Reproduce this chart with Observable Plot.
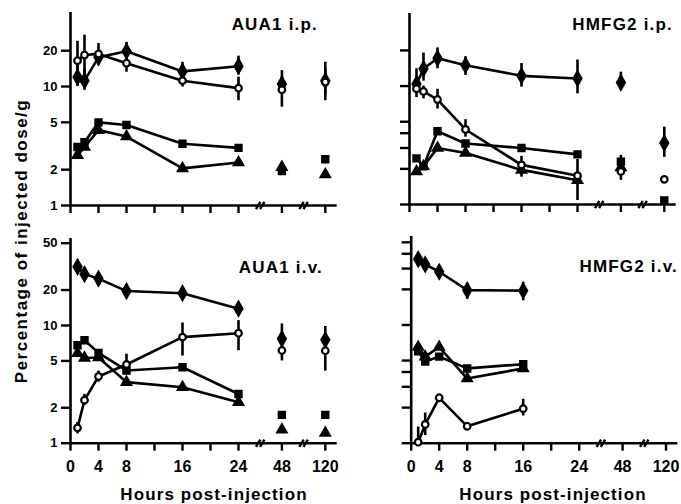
<!DOCTYPE html>
<html><head><meta charset="utf-8">
<script src="https://cdn.jsdelivr.net/npm/d3@7"></script>
<script src="https://cdn.jsdelivr.net/npm/@observablehq/plot@0.6"></script>
<style>
body{margin:0;background:#fff;}
#chart{position:relative;width:681px;height:504px;overflow:hidden;font-family:"Liberation Sans",Arial,sans-serif;font-weight:bold;color:#000;}
.panel{position:absolute;}
.lbl{position:absolute;white-space:nowrap;font-weight:bold;line-height:1;}
#chart g[aria-label$="axis tick"] path{stroke-width:2.4px;}
</style></head><body><div id="chart"></div>
<script>
// ---- data (percentage of injected dose / g) ----
const hoursAll = [1, 2, 4, 8, 16, 24, 48, 120];
const hoursShort = [1, 2, 4, 8, 16];

// AUA1 i.p.
const auaIpDiamond  = [12.0, 11.2, 17.6, 19.8, 13.4, 14.8, 10.5, 11.2];
const auaIpCircle   = [16.5, 18.4, 18.8, 15.7, 11.2, 9.7, 9.4, 10.9];
const auaIpSquare   = [3.1, 3.4, 5.0, 4.75, 3.3, 3.05, 1.95, 2.45];
const auaIpTriangle = [2.65, 3.1, 4.3, 3.8, 2.05, 2.3, 2.1, 1.82];
const auaIpDiamondLo = [10, 9.3, 15, 17, 11.5, 12.5, 9, 8.5];
const auaIpDiamondHi = [15, 14, 23, 23.5, 16, 18, 13.6, 16];
const auaIpCircleLo  = [10.5, 12, null, 13.2, 9.9, 7.6, 6.7, 7.6];
const auaIpCircleHi  = [24, 27, null, 18, 13, 12, 12, 14];

// HMFG2 i.p.
const hmfIpDiamond  = [10.4, 14.0, 17.2, 15.0, 12.2, 11.6, 10.7, 3.3];
const hmfIpCircle   = [9.5, 9.0, 7.7, 4.3, 2.16, 1.75, 1.9, 1.63];
const hmfIpSquare   = [2.45, 2.1, 4.15, 3.27, 3.0, 2.65, 2.3, 1.08];
const hmfIpTriangle = [1.9, 2.1, 3.0, 2.72, 1.96, 1.6, 2.05, null];
const hmfIpDiamondLo = [8, 11, 14, 12.3, 9.8, 8.6, 9.2, 2.5];
const hmfIpDiamondHi = [14, 19, 21, 17.7, 15.5, 16.6, 13.1, 4.5];
const hmfIpCircleLo  = [null, 7.8, 6.4, 3.7, 1.7, 1.08, 1.6, null];
const hmfIpCircleHi  = [null, 10, 9.4, 5.2, 2.55, 2.4, 2.6, null];

// AUA1 i.v.
const auaIvDiamond  = [31.5, 27.3, 25.0, 19.6, 18.8, 13.9, 7.7, 7.55];
const auaIvCircle   = [1.35, 2.32, 3.69, 4.66, 7.96, 8.6, 6.13, 6.1];
const auaIvSquare   = [6.8, 7.5, 5.85, 4.15, 4.42, 2.62, 1.74, 1.74];
const auaIvTriangle = [5.8, 5.3, 5.35, 3.3, 2.99, 2.23, 1.3, 1.22];
const auaIvDiamondLo = [28, 24.5, 23, 17, 16.5, 12.8, 7, 7];
const auaIvDiamondHi = [36, 30, 28, 22, 21, 15.5, 10.3, 9.8];
const auaIvCircleLo  = [1.2, 2.1, 3.3, 3.9, 5.5, 6.1, 5.0, 4.1];
const auaIvCircleHi  = [1.5, 2.6, 4.1, 5.7, 10.5, 11, 7, 7];

// HMFG2 i.v.
const hmfIvDiamond  = [36.0, 32.5, 28.2, 19.7, 19.5];
const hmfIvCircle   = [1.02, 1.44, 2.42, 1.39, 1.96];
const hmfIvSquare   = [6.0, 4.9, 5.4, 4.29, 4.66];
const hmfIvTriangle = [6.5, 5.4, 6.5, 3.52, 4.29];
const hmfIvDiamondLo = [31, 29, 25, 16.5, 16];
const hmfIvDiamondHi = [40, 35, 31, 22.5, 23];
const hmfIvCircleLo  = [1.0, 1.16, 2.3, 1.3, 1.7];
const hmfIvCircleHi  = [1.37, 1.8, 2.6, 1.5, 2.35];

// axis ticks
const xTickHours  = [0, 4, 8, 12, 16, 20, 24, 48, 120];
const xTickLabels = ["0", "4", "8", "", "16", "", "24", "48", "120"];
const yTicksA = [1, 2, 5, 10, 20];
const yTicksB = [1, 2, 3, 4, 5, 10, 20];
const yTicksC = [1, 2, 5, 10, 20, 50];
const yTicksD = [1, 2, 3, 4, 5, 10, 20, 30, 40, 50];
const titles = ["AUA1 i.p.", "HMFG2 i.p.", "AUA1 i.v.", "HMFG2 i.v."];
const yTitle = "Percentage of injected dose/g";
const xTitle = "Hours post-injection";

// ---- broken time axis: 0-24 h linear, then 48 and 120 h ----
const gapUnits = 6.2;
const pos = h => h <= 24 ? h : h <= 48 ? 24 + (h - 24) * gapUnits / 24 : 24 + gapUnits + (h - 48) * gapUnits / 72;
const breakHours = [36, 84];
const xTickPos = xTickHours.map(pos);

// "//" axis-break glyph as a custom symbol
const breakSymbol = {
  draw(ctx, size) {
    const s = Math.sqrt(size) / 2;
    for (const dx of [-s * 0.42, s * 0.42]) {
      ctx.moveTo(dx - s * 0.45, s * 0.75);
      ctx.lineTo(dx + s * 0.45, -s * 0.75);
    }
  }
};

const FONT = "'Liberation Sans', Arial, sans-serif";

function panel(cfg) {
  const series = [
    ["triangle", cfg.triangle], ["square", cfg.square], ["diamond", cfg.diamond], ["circle", cfg.circle]
  ];
  const rows = [];
  for (const [s, vals] of series) vals.forEach((v, i) => { if (v != null) rows.push({h: cfg.hours[i], v, s}); });
  const errs = [];
  for (const [lo, hi] of cfg.errs) lo.forEach((l, i) => { if (l != null) errs.push({h: cfg.hours[i], lo: l, hi: hi[i]}); });
  const lineRows = rows.filter(d => d.h <= 24);
  const X = d => pos(d.h);
  const dots = (s, opts) => Plot.dot(rows.filter(d => d.s === s), {x: X, y: "v", symbol: s, stroke: "black", ...opts});
  return Plot.plot({
    width: cfg.width, height: cfg.height,
    marginLeft: cfg.mL, marginRight: cfg.mR, marginTop: cfg.mT, marginBottom: cfg.mB,
    x: {domain: [0, 38.1], axis: null},
    y: {type: "log", domain: [1, cfg.yMax], axis: null},
    style: {fontFamily: FONT, fontWeight: "bold", background: "transparent", color: "black"},
    marks: [
      Plot.ruleX([0], {strokeWidth: 2.6}),
      Plot.ruleY([1], {strokeWidth: 2.6}),
      Plot.axisY({ticks: cfg.yTicks, tickSize: 9, tickPadding: 4,
        tickFormat: cfg.yLabels ? (d => String(d)) : (() => ""), fontSize: 13, fontWeight: "bold", label: null}),
      Plot.axisX({ticks: xTickPos, tickSize: 8, tickPadding: 9,
        tickFormat: cfg.xLabels ? (p => xTickLabels[xTickPos.indexOf(p)]) : (() => ""), fontSize: 16, fontWeight: "bold", label: null}),
      Plot.dot(breakHours, {x: pos, frameAnchor: "bottom", symbol: breakSymbol, r: 5.5, fill: "none", stroke: "black", strokeWidth: 2.4}),
      Plot.line(lineRows, {x: X, y: "v", z: "s", stroke: "black", strokeWidth: 2.6}),
      Plot.ruleX(errs, {x: X, y1: "lo", y2: "hi", strokeWidth: 2.6}),
      dots("triangle", {fill: "black", r: 3.9}),
      dots("square", {fill: "black", r: 3.9}),
      dots("diamond", {fill: "black", r: 4.6}),
      dots("circle", {fill: "white", r: 3.3, strokeWidth: 2.2})
    ]
  });
}

const cfgs = [
  {left: 0, top: 0, width: 340, height: 220, mL: 70, mR: 3.3, mT: 12, mB: 15, yMax: 41.9, yTicks: yTicksA, yLabels: true, xLabels: false,
   hours: hoursAll, diamond: auaIpDiamond, circle: auaIpCircle, square: auaIpSquare, triangle: auaIpTriangle,
   errs: [[auaIpDiamondLo, auaIpDiamondHi], [auaIpCircleLo, auaIpCircleHi]]},
  {left: 340, top: 0, width: 341, height: 220, mL: 69, mR: 5.3, mT: 13, mB: 16, yMax: 41.0, yTicks: yTicksB, yLabels: false, xLabels: false,
   hours: hoursAll, diamond: hmfIpDiamond, circle: hmfIpCircle, square: hmfIpSquare, triangle: hmfIpTriangle,
   errs: [[hmfIpDiamondLo, hmfIpDiamondHi], [hmfIpCircleLo, hmfIpCircleHi]]},
  {left: 0, top: 220, width: 340, height: 284, mL: 70, mR: 3.3, mT: 18, mB: 61.3, yMax: 54.8, yTicks: yTicksC, yLabels: true, xLabels: true,
   hours: hoursAll, diamond: auaIvDiamond, circle: auaIvCircle, square: auaIvSquare, triangle: auaIvTriangle,
   errs: [[auaIvDiamondLo, auaIvDiamondHi], [auaIvCircleLo, auaIvCircleHi]]},
  {left: 340, top: 220, width: 341, height: 284, mL: 70.7, mR: 3.6, mT: 16, mB: 61.3, yMax: 56, yTicks: yTicksD, yLabels: false, xLabels: true,
   hours: hoursShort, diamond: hmfIvDiamond, circle: hmfIvCircle, square: hmfIvSquare, triangle: hmfIvTriangle,
   errs: [[hmfIvDiamondLo, hmfIvDiamondHi], [hmfIvCircleLo, hmfIvCircleHi]]}
];

const chart = document.getElementById("chart");
cfgs.forEach(cfg => {
  const wrap = document.createElement("div");
  wrap.className = "panel";
  wrap.style.left = cfg.left + "px";
  wrap.style.top = cfg.top + "px";
  wrap.appendChild(panel(cfg));
  chart.appendChild(wrap);
});

function label(text, css) {
  const d = document.createElement("div");
  d.className = "lbl";
  d.textContent = text;
  Object.assign(d.style, css);
  chart.appendChild(d);
}
// panel titles (right edge, top)
const titlePos = [[318, 16], [673, 16], [323, 259], [678, 258]];
titles.forEach((t, i) => label(t, {right: (681 - titlePos[i][0]) + "px", top: titlePos[i][1] + "px", fontSize: "17px", letterSpacing: "1.2px"}));
label(xTitle, {left: "214px", top: "486px", fontSize: "17px", letterSpacing: "1.1px", transform: "translateX(-50%)"});
label(xTitle, {left: "553px", top: "486px", fontSize: "17px", letterSpacing: "1.1px", transform: "translateX(-50%)"});
label(yTitle, {left: "21px", top: "241px", fontSize: "17px", letterSpacing: "1.5px", transform: "translate(-50%,-50%) rotate(-90deg)"});
</script></body></html>
